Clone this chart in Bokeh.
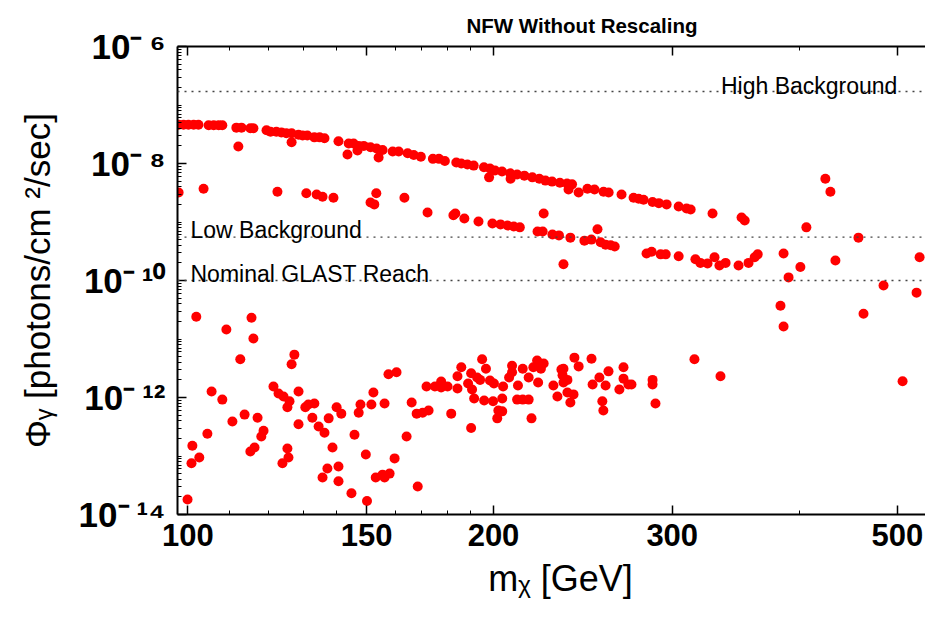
import math
from bokeh.plotting import figure
from bokeh.models import (Range1d, FixedTicker, LogAxis, CustomJSTickFormatter,
                          Label, Span)
from bokeh.embed import file_html
from bokeh.resources import INLINE

# ---------------- data ----------------
# upper band  (m_chi [GeV], flux [photons/cm^2/s])
upper_mass = [97.9, 99.0, 100.1, 101.3, 102.4, 104.8, 106.0, 107.2, 108.1, 111.6, 112.9,
              115.2, 116.0, 119.5, 120.6, 122.2, 123.6, 125.0, 126.5, 128.5, 129.7, 131.1,
              133.2, 134.8, 136.3, 140.7, 144.0, 145.6, 147.3, 149.0, 151.3, 153.4, 155.5,
              159.1, 161.3, 164.6, 166.9, 169.6, 174.3, 176.7, 179.1, 183.8, 185.9, 188.5,
              191.2, 195.7, 198.4, 200.7, 203.9, 207.7, 211.0, 214.5, 218.4, 221.9, 225.0,
              228.4, 232.5, 236.3, 239.0, 247.5, 251.5, 256.7, 259.7, 267.4, 274.8, 278.0,
              281.1, 286.9, 291.0, 296.2, 304.4, 309.9, 312.8, 328.7, 351.1, 353.6]
upper_flux = [4.6e-8, 4.6e-8, 4.6e-8, 4.6e-8, 4.6e-8, 4.5e-8, 4.5e-8, 4.5e-8, 4.5e-8, 4.1e-8, 4.1e-8,
              4.0e-8, 4.0e-8, 3.7e-8, 3.5e-8, 3.5e-8, 3.4e-8, 3.3e-8, 3.3e-8, 3.1e-8, 3.0e-8, 3.0e-8,
              2.8e-8, 2.8e-8, 2.7e-8, 2.4e-8, 2.2e-8, 2.2e-8, 2.0e-8, 2.0e-8, 1.9e-8, 1.8e-8, 1.7e-8,
              1.6e-8, 1.6e-8, 1.5e-8, 1.4e-8, 1.3e-8, 1.2e-8, 1.2e-8, 1.1e-8, 1.04e-8, 1.0e-8, 9.6e-9,
              9.2e-9, 8.6e-9, 8.2e-9, 7.6e-9, 7.3e-9, 6.8e-9, 6.5e-9, 6.2e-9, 5.8e-9, 5.5e-9, 5.1e-9,
              4.9e-9, 4.7e-9, 4.55e-9, 4.4e-9, 3.7e-9, 3.6e-9, 3.3e-9, 3.2e-9, 2.95e-9, 2.6e-9, 2.5e-9,
              2.4e-9, 2.2e-9, 2.1e-9, 2.0e-9, 1.84e-9, 1.7e-9, 1.64e-9, 1.4e-9, 1.19e-9, 1.06e-9]

# points just below the upper band
offband_mass = [112.1, 126.5, 143.6, 146.9, 154.1, 198.0, 207.9, 237.1, 242.6, 424.6, 429.5]
offband_flux = [1.95e-8, 2.3e-8, 1.43e-8, 1.67e-8, 1.27e-8, 5.8e-9, 5.5e-9, 3.6e-9, 3.2e-9, 5.5e-9, 3.3e-9]

# lower band
lower_mass = [97.9, 103.6, 122.5, 130.8, 133.9, 135.7, 139.1, 151.3, 152.6, 153.3, 163.4, 172.2,
              182.6, 183.4, 187.2, 193.3, 199.5, 203.2, 206.5, 209.4, 212.3, 221.0, 223.6, 224.1,
              228.6, 232.0, 234.4, 238.1, 245.8, 249.7, 253.2, 255.0, 257.9, 260.9, 263.3, 283.0,
              286.3, 292.2, 295.6, 304.4, 316.2, 319.8, 325.0, 330.2, 333.9, 338.6, 348.7, 356.7,
              361.7, 364.2, 386.2, 390.6, 401.2, 406.7, 434.4, 457.7, 525.8]
lower_flux = [3.2e-9, 3.7e-9, 3.3e-9, 3.1e-9, 2.95e-9, 2.7e-9, 2.6e-9, 2.15e-9, 2.0e-9, 3.1e-9, 2.6e-9, 1.45e-9,
              1.3e-9, 1.4e-9, 1.15e-9, 1.02e-9, 9.4e-10, 9.1e-10, 8.7e-10, 8.4e-10, 8.1e-10, 6.9e-10, 6.9e-10, 1.4e-9,
              6.1e-10, 5.9e-10, 1.9e-10, 5.4e-10, 4.8e-10, 5.0e-10, 7.5e-10, 4.5e-10, 4.1e-10, 4.0e-10, 3.8e-10, 2.9e-10,
              3.1e-10, 2.8e-10, 2.8e-10, 2.6e-10, 2.3e-10, 2.0e-10, 1.95e-10, 2.5e-10, 1.8e-10, 2.0e-10, 1.8e-10, 2.0e-10,
              2.5e-10, 2.8e-10, 2.9e-10, 1.13e-10, 1.7e-10, 8.1e-10, 2.2e-10, 5.4e-10, 2.5e-10]

# isolated heavy points
heavy_mass = [383.5, 386.2, 463.0, 484.5, 522.2, 505.9, 315.5, 334.7]
heavy_flux = [3.7e-11, 1.64e-11, 2.7e-11, 8.2e-11, 6.2e-11, 1.9e-12, 4.5e-12, 2.3e-12]

# low-flux cloud
cloud_mass = [99.9, 100.8, 101.0, 102.6, 101.9, 104.5, 105.5, 108.1, 109.1, 110.6, 112.6, 113.7,
              115.5, 116.0, 115.2, 116.3, 117.1, 118.1, 118.7, 121.4, 122.8, 124.2, 125.9, 125.3,
              125.3, 125.6, 123.9, 126.5, 127.3, 128.5, 128.5, 130.5, 131.4, 133.2, 132.6, 134.5,
              136.3, 137.6, 138.8, 140.1, 141.6, 137.2, 135.7, 140.7, 140.7, 144.9, 145.9, 147.3,
              147.9, 149.7, 150.1, 151.6, 152.3, 156.2, 157.6, 160.5, 159.8, 158.0, 156.2, 153.1,
              155.5, 164.2, 168.4, 166.1, 168.0, 170.3, 172.6, 171.8, 175.1, 177.6, 177.6, 180.2,
              181.7, 184.3, 184.3, 185.9, 188.8, 190.1, 190.5, 191.4, 192.7, 194.0, 194.9, 196.6,
              195.8, 198.4, 200.2, 199.8, 204.4, 204.0, 202.2, 204.0, 201.7, 190.1, 207.2, 208.6,
              208.6, 211.4, 213.7, 211.0, 213.7, 216.6, 216.6, 218.0, 218.9, 220.8, 221.3, 222.7,
              224.1, 229.1, 231.2, 233.3, 234.4, 233.9, 234.4, 236.5, 236.5, 239.8, 238.1, 240.3,
              242.6, 249.8, 250.4, 254.3, 259.6, 257.9, 256.0, 256.6, 266.1, 268.6, 268.6, 271.6,
              273.5, 286.9, 286.9, 288.8]
cloud_flux = [1.8e-14, 7.5e-14, 1.5e-13, 9.4e-14, 2.4e-11, 2.4e-13, 1.27e-12, 9.2e-13, 1.45e-11, 3.9e-13, 4.5e-12, 5.1e-13,
              2.3e-11, 1.02e-11, 1.19e-13, 1.4e-13, 4.5e-13, 2.15e-13, 2.7e-13, 1.54e-12, 1.17e-12, 1.04e-12, 8.6e-13, 6.8e-13,
              1.34e-13, 9.4e-14, 7.5e-14, 3.7e-12, 5.4e-12, 3.5e-13, 1.27e-12, 6.8e-13, 7.6e-13, 7.9e-13, 4.5e-13, 3.2e-13,
              2.5e-13, 4.4e-13, 1.4e-13, 6.8e-13, 5.3e-13, 6.1e-14, 4.3e-14, 6.6e-14, 3.7e-14, 2.3e-14, 2.3e-13, 5.5e-13,
              7.6e-13, 1.06e-13, 1.7e-14, 7.6e-13, 1.22e-12, 7.9e-13, 2.5e-12, 2.7e-12, 9.1e-14, 5.0e-14, 4.3e-14, 4.3e-14,
              4.8e-14, 2.15e-13, 3.0e-14, 8.2e-13, 5.3e-13, 5.5e-13, 6.0e-13, 1.54e-12, 1.54e-12, 1.88e-12, 1.48e-12, 1.54e-12,
              5.3e-13, 1.43e-12, 2.3e-12, 3.3e-12, 1.73e-12, 2.6e-12, 1.37e-12, 9.6e-13, 2.2e-12, 2.0e-12, 4.5e-12, 3.1e-12,
              8.9e-13, 1.95e-12, 1.73e-12, 8.6e-13, 1.54e-12, 9.6e-13, 6.0e-13, 5.8e-13, 4.4e-13, 3.0e-13, 2.2e-12, 3.5e-12,
              2.7e-12, 1.6e-12, 3.1e-12, 9.2e-13, 9.2e-13, 9.2e-13, 2.2e-12, 4.4e-13, 3.3e-12, 4.3e-12, 1.8e-12, 3.1e-12,
              3.8e-12, 1.6e-12, 1.04e-12, 3.0e-12, 3.1e-12, 2.4e-12, 1.8e-12, 2.0e-12, 1.22e-12, 1.13e-12, 8.2e-13, 4.8e-12,
              3.4e-12, 4.6e-12, 1.67e-12, 2.2e-12, 2.8e-12, 1.6e-12, 8.6e-13, 6.0e-13, 1.37e-12, 3.3e-12, 2.1e-12, 1.67e-12,
              1.67e-12, 2.0e-12, 1.67e-12, 7.9e-13]

# reference levels
level_values = [1.7e-7, 5.5e-10, 1e-10]
level_names = ["High Background", "Low Background", "Nominal GLAST Reach"]

# axes
x_ticks = [100, 150, 200, 300, 500]
x_minor_ticks = [110, 120, 130, 140, 160, 170, 180, 190, 400]
y_tick_exponents = [-14, -12, -10, -8, -6]
X_MIN, X_MAX = 97.65, 532.9
Y_MIN, Y_MAX = 1e-14, 1e-6

# ---------------- figure ----------------
FONT = "Liberation Sans"
p = figure(width=925, height=620, x_axis_type="log", y_axis_type="log",
           x_range=Range1d(X_MIN, X_MAX), y_range=Range1d(Y_MIN, Y_MAX),
           output_backend="svg", toolbar_location=None,
           min_border_left=177, min_border_right=0, min_border_top=46, min_border_bottom=106)
p.outline_line_color = None
p.grid.visible = False
p.background_fill_color = "white"
p.border_fill_color = "white"

p.title.text = "NFW Without Rescaling"
p.title.align = "left"
p.title.offset = 289
p.title.text_font = FONT
p.title.text_font_style = "bold"
p.title.text_font_size = "20.5px"
p.title.text_color = "black"
p.title.standoff = 20

y_major = [10.0 ** e for e in y_tick_exponents]
y_minor = [k * 10.0 ** n for n in range(-14, -6) for k in range(1, 10)
           if not (k == 1 and n in y_tick_exponents)]

def style_axis(ax):
    ax.axis_line_width = 2
    ax.axis_line_color = "black"
    ax.major_tick_in = 9
    ax.major_tick_out = 0
    ax.minor_tick_in = 4
    ax.minor_tick_out = 0
    ax.major_tick_line_width = 1.5
    ax.minor_tick_line_width = 1
    ax.major_tick_line_color = "black"
    ax.minor_tick_line_color = "black"
    ax.major_label_text_color = "black"
    ax.axis_label_text_color = "black"

xa = p.xaxis[0]
xa.ticker = FixedTicker(ticks=x_ticks, minor_ticks=x_minor_ticks)
xa.formatter = CustomJSTickFormatter(code="return tick.toFixed(0);")
xa.major_label_text_font = FONT
xa.major_label_text_font_style = "bold"
xa.major_label_text_font_size = "31px"
xa.major_label_standoff = 9
xa.axis_label = "\u2002m\u1d6a [GeV]"
xa.axis_label_text_font = FONT
xa.axis_label_text_font_style = "normal"
xa.axis_label_text_font_size = "36px"
xa.axis_label_standoff = 9
style_axis(xa)

ya = p.yaxis[0]
ya.ticker = FixedTicker(ticks=y_major, minor_ticks=y_minor)
ya.formatter = CustomJSTickFormatter(code="""
const sup = {'0':'\u2070','1':'\u00b9','2':'\u00b2','3':'\u00b3','4':'\u2074',
             '5':'\u2075','6':'\u2076','7':'\u2077','8':'\u2078','9':'\u2079'};
const e = Math.round(Math.log10(tick));
return '10\u207b\u2009' + String(-e).split('').map(c => sup[c]).join('');
""")
ya.major_label_text_font = FONT
ya.major_label_text_font_style = "bold"
ya.major_label_text_font_size = "35px"
ya.major_label_standoff = 12
ya.axis_label = "\u03a6\u1d67 [photons/cm \u00b2/sec]"
ya.axis_label_text_font = FONT
ya.axis_label_text_font_style = "normal"
ya.axis_label_text_font_size = "35px"
ya.axis_label_standoff = 19
style_axis(ya)

top = LogAxis(ticker=FixedTicker(ticks=x_ticks, minor_ticks=x_minor_ticks),
              formatter=CustomJSTickFormatter(code="return '';"),
              major_label_standoff=0)
style_axis(top)
p.add_layout(top, "above")

# reference lines and their labels
for v in level_values:
    p.add_layout(Span(location=v, dimension="width", line_color="#444444",
                      line_width=1.3, line_dash="2 5"))
p.add_layout(Label(x=500, y=level_values[0], y_offset=6, text=level_names[0],
                   text_font=FONT, text_font_size="23px", text_align="right",
                   text_baseline="alphabetic", text_color="black"))
for v, name in zip(level_values[1:], level_names[1:]):
    p.add_layout(Label(x=X_MIN, y=v, x_offset=13, y_offset=7, text=name,
                       text_font=FONT, text_font_size="23px", text_align="left",
                       text_baseline="alphabetic", text_color="black"))

# data
RED = "#ff0000"
for xs, ys in [(upper_mass, upper_flux), (offband_mass, offband_flux),
               (lower_mass, lower_flux), (heavy_mass, heavy_flux),
               (cloud_mass, cloud_flux)]:
    p.scatter(xs, ys, size=10, fill_color=RED, line_color=None, marker="circle")

open("out.html", "w").write(file_html(p, INLINE))
